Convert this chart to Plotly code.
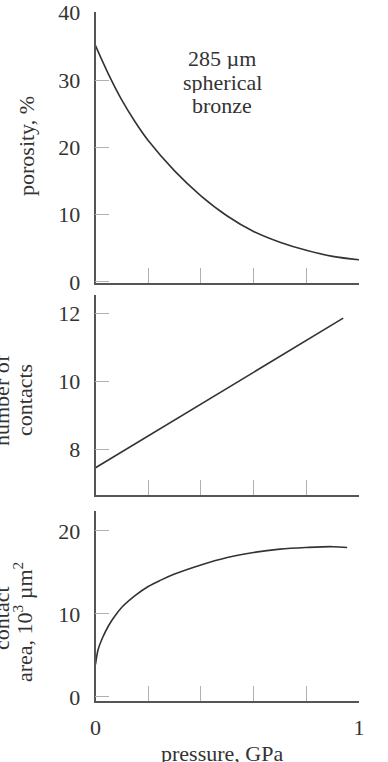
import plotly.graph_objects as go

# --- data ---
por_p = [0, 0.05, 0.1, 0.15, 0.2, 0.3, 0.4, 0.5, 0.6, 0.7, 0.8, 0.9, 1.0]
por_v = [35.1, 30.8, 27.0, 23.8, 21.0, 16.5, 12.8, 9.8, 7.5, 5.9, 4.7, 3.8, 3.3]

num_p = [0, 0.94]
num_v = [7.45, 11.85]

area_p = [0, 0.01, 0.025, 0.05, 0.075, 0.1, 0.15, 0.2, 0.25, 0.3, 0.4, 0.5, 0.6, 0.7, 0.8, 0.9, 0.955]
area_v = [3.9, 5.7, 7.0, 8.6, 9.8, 10.8, 12.2, 13.3, 14.1, 14.8, 15.9, 16.8, 17.4, 17.8, 18.0, 18.1, 18.0]

x_minor_ticks = [0.2, 0.4, 0.6, 0.8]
x_label_vals = [0, 1]
x_label_text = ["0", "1"]
por_ticks = [0, 10, 20, 30, 40]
num_ticks = [8, 10, 12]
area_ticks = [0, 10, 20]

W, H = 388, 762
FONT = "Liberation Serif"
TXT = "#333333"
LINE = "#333333"
AX = "#555555"
TICK = "#b0b0b0"
FS = 22


def px_x(p):
    return p / W


def px_y(p):
    return 1 - p / H


fig = go.Figure()
fig.add_trace(go.Scatter(x=por_p, y=por_v, mode="lines", line=dict(color=LINE, width=1.6, shape="spline"),
                         xaxis="x", yaxis="y", showlegend=False))
fig.add_trace(go.Scatter(x=num_p, y=num_v, mode="lines", line=dict(color=LINE, width=1.6),
                         xaxis="x2", yaxis="y2", showlegend=False))
fig.add_trace(go.Scatter(x=area_p, y=area_v, mode="lines", line=dict(color=LINE, width=1.6, shape="spline"),
                         xaxis="x3", yaxis="y3", showlegend=False))

xdom = [px_x(95.5), px_x(359)]
common_x = dict(range=[0, 1], domain=xdom, showline=True, linecolor=AX, linewidth=1.5,
                ticks="inside", ticklen=15, tickcolor=TICK, tickwidth=1.2, automargin=False,
                tickvals=x_minor_ticks, showticklabels=False, showgrid=False, zeroline=False)
common_y = dict(showline=True, linecolor=AX, linewidth=1.5, ticks="inside", ticklen=14,
                tickcolor=TICK, tickwidth=1.2, showgrid=False, zeroline=False, automargin=False,
                tickfont=dict(family=FONT, size=FS, color=TXT), ticklabelstandoff=9)

fig.update_layout(
    width=W, height=H,
    margin=dict(l=0, r=0, t=0, b=0, autoexpand=False),
    paper_bgcolor="white", plot_bgcolor="white",
    xaxis=dict(common_x, anchor="y"),
    xaxis2=dict(common_x, anchor="y2"),
    xaxis3=dict(common_x, anchor="y3"),
    xaxis4=dict(range=[0, 1], domain=xdom, anchor="y3", overlaying="x3", showline=False, automargin=False,
                ticks="", tickvals=x_label_vals, ticktext=x_label_text, showgrid=False,
                zeroline=False, tickfont=dict(family=FONT, size=FS, color=TXT), ticklabelstandoff=11),
    yaxis=dict(common_y, range=[-0.15, 40.1], domain=[px_y(283), px_y(12)], tickvals=por_ticks, anchor="x"),
    yaxis2=dict(common_y, range=[6.65, 12.53], domain=[px_y(495), px_y(295)], tickvals=num_ticks, anchor="x2"),
    yaxis3=dict(common_y, range=[-0.5, 22.4], domain=[px_y(701), px_y(511)], tickvals=area_ticks, anchor="x3"),
)
# invisible trace so xaxis4 is drawn
fig.add_trace(go.Scatter(x=[0, 1], y=[None, None], xaxis="x4", yaxis="y3", showlegend=False,
                         hoverinfo="skip"))

ann_font = dict(family=FONT, size=FS, color=TXT)
anns = [
    dict(text="285 µm", x=px_x(222), y=px_y(58), height=22),
    dict(text="spherical", x=px_x(222), y=px_y(82), height=22),
    dict(text="bronze", x=px_x(222), y=px_y(105), height=22),
    dict(text="porosity, %", x=px_x(27), y=px_y(146), textangle=-90),
    dict(text="number of", x=px_x(1), y=px_y(400), textangle=-90),
    dict(text="contacts", x=px_x(24), y=px_y(400), textangle=-90),
    dict(text="contact", x=px_x(1), y=px_y(618), textangle=-90),
    dict(text="area, 10<sup>3</sup> µm<sup>2</sup>", x=px_x(23), y=px_y(622), textangle=-90),
    dict(text="pressure, GPa", x=px_x(222), y=px_y(753)),
]
for a in anns:
    base = dict(xref="paper", yref="paper", xanchor="center", yanchor="middle", showarrow=False, font=ann_font)
    base.update(a)
    fig.add_annotation(**base)

fig.write_html("out.html")
